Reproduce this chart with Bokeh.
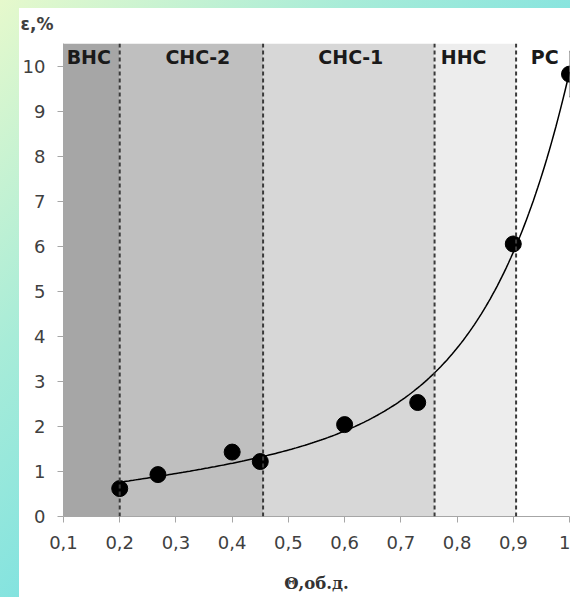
import numpy as np
from bokeh.plotting import figure
from bokeh.layouts import column
from bokeh.models import (ColumnDataSource, Range1d, FixedTicker, Whisker,
                          TeeHead, Span)
from bokeh.core.properties import value
from bokeh.embed import file_html
from bokeh.resources import INLINE

# Measured strain vs. volume fraction
theta = [0.20, 0.268, 0.40, 0.45, 0.60, 0.73, 0.90, 1.00]
eps = [0.62, 0.93, 1.43, 1.22, 2.04, 2.53, 6.05, 9.82]
eps_err = [0, 0, 0, 0, 0, 0, 0.30, 0.50]

# Structural zones along the Θ axis
zone_names = ["ВНС", "СНС-2", "СНС-1", "ННС", "РС"]
zone_left = [0.10, 0.20, 0.455, 0.76, 0.905]
zone_right = [0.20, 0.455, 0.76, 0.905, 1.00]
zone_colors = ["#a6a6a6", "#bfbfbf", "#d7d7d7", "#ededed", "#ffffff"]
zone_label_x = [0.145, 0.339, 0.611, 0.771, 0.931]
zone_label_align = ["center", "center", "center", "left", "left"]
boundaries = [0.20, 0.455, 0.76, 0.905]

x_ticks = [0.1, 0.2, 0.3, 0.4, 0.5, 0.6, 0.7, 0.8, 0.9, 1.0]
x_tick_labels = ["0,1", "0,2", "0,3", "0,4", "0,5", "0,6", "0,7", "0,8", "0,9", "1"]
y_ticks = list(range(0, 11))

p = figure(width=570, height=597, output_backend="svg", toolbar_location=None,
           x_range=Range1d(0.1, 1.0), y_range=Range1d(0, 10.5),
           min_border_left=63, min_border_right=1, min_border_top=43,
           min_border_bottom=81)
p.background_fill_color = "white"
p.border_fill_color = None
p.outline_line_color = None
p.grid.visible = False

# y-axis caption sits in the top-left corner
p.title.text = "ε,%"
p.title.align = "left"
p.title.offset = -43
p.title.standoff = 20
p.title.text_font = "DejaVu Sans"
p.title.text_font_style = "bold"
p.title.text_font_size = "17px"
p.title.text_color = "#404040"

# zone bands
p.quad(left=zone_left, right=zone_right, bottom=0, top=10.5,
       fill_color=zone_colors, line_color=None)

for b in boundaries:
    p.add_layout(Span(location=b, dimension="height", line_color="#3a3a3a",
                      line_width=2, line_dash="4 3"))

p.text(x=zone_label_x, y=[10.2] * 5, text=zone_names,
       text_align=zone_label_align, text_baseline="middle",
       text_font=value("DejaVu Sans"), text_font_style="bold",
       text_font_size="19px", text_color="#1a1a1a")

# trend line: least-squares fit of eps = c + d*theta + a*exp(b*theta)
th = np.asarray(theta)
ep = np.asarray(eps)
best = None
for b in np.linspace(2.0, 20.0, 1801):
    A = np.column_stack([np.ones_like(th), th, np.exp(b * th)])
    sol, *_ = np.linalg.lstsq(A, ep, rcond=None)
    res = np.sum((A @ sol - ep) ** 2)
    if best is None or res < best[0]:
        best = (res, b, sol)
_, b_fit, (c_fit, d_fit, a_fit) = best
xs = np.linspace(th.min(), th.max(), 200)
p.line(xs, c_fit + d_fit * xs + a_fit * np.exp(b_fit * xs),
       line_color="black", line_width=1.5)

# error bars on the last points
idx = [i for i, e in enumerate(eps_err) if e > 0]
err_src = ColumnDataSource(data=dict(
    x=[theta[i] for i in idx],
    lo=[eps[i] - eps_err[i] for i in idx],
    hi=[eps[i] + eps_err[i] for i in idx]))
p.add_layout(Whisker(source=err_src, base="x", lower="lo", upper="hi",
                     line_color="#333333", line_width=1.5,
                     upper_head=TeeHead(size=10, line_color="#333333", line_width=1.5),
                     lower_head=TeeHead(size=10, line_color="#333333", line_width=1.5)))

p.scatter(theta, eps, size=16, fill_color="black", line_color="black")

# axes
for ax in (p.xaxis[0], p.yaxis[0]):
    ax.axis_line_color = "#a6a6a6"
    ax.major_tick_line_color = "#a6a6a6"
    ax.minor_tick_line_color = None
    ax.major_tick_in = 0
    ax.major_tick_out = 6
    ax.major_label_text_font = "DejaVu Sans"
    ax.major_label_text_font_size = "18px"
    ax.major_label_text_color = "#404040"

p.xaxis.ticker = FixedTicker(ticks=x_ticks)
p.xaxis.major_label_overrides = {t: s for t, s in zip(x_ticks, x_tick_labels)}
p.xaxis.major_label_standoff = 13
p.xaxis.axis_label = "Θ,об.д."
p.xaxis.axis_label_text_font = "DejaVu Serif"
p.xaxis.axis_label_text_font_style = "bold"
p.xaxis.axis_label_text_font_size = "16.5px"
p.xaxis.axis_label_text_color = "#333333"
p.xaxis.axis_label_standoff = 22

p.yaxis.ticker = FixedTicker(ticks=y_ticks)
p.yaxis.major_label_standoff = 12

# white sheet over a teal gradient backdrop
page = column(p, styles={
    "background": ("linear-gradient(#ffffff, #ffffff) 19px 8px / 551px 589px no-repeat, "
                   "linear-gradient(135deg, #e6f9cc 0%, #a8ecd8 30%, #80e2e0 55%, #74dee2 100%)")})

open("out.html", "w").write(file_html(page, INLINE))
